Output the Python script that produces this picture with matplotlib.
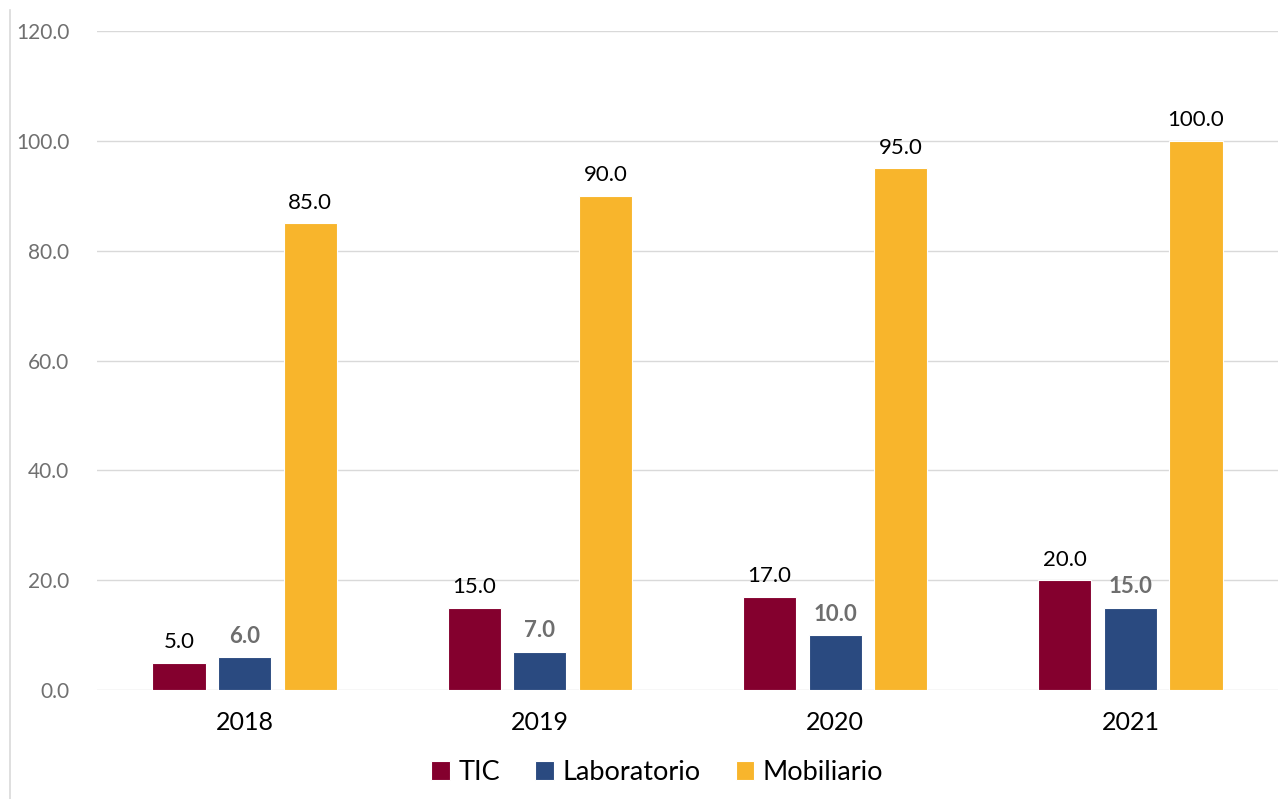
import numpy as np
import matplotlib.pyplot as plt
from matplotlib.lines import Line2D

plt.rcParams['font.family'] = ['Lato', 'DejaVu Sans']

years = ['2018', '2019', '2020', '2021']
tic = [5.0, 15.0, 17.0, 20.0]
laboratorio = [6.0, 7.0, 10.0, 15.0]
mobiliario = [85.0, 90.0, 95.0, 100.0]

series = [
    ('TIC', tic, '#84002E', '#000000', 'normal'),
    ('Laboratorio', laboratorio, '#2A4A80', '#6E6E6E', 'bold'),
    ('Mobiliario', mobiliario, '#F8B52C', '#000000', 'normal'),
]

fig = plt.figure(figsize=(12.81, 7.99), dpi=100)
ax = fig.add_axes([0.0757, 0.1364, 0.922, 0.8248])

x = np.arange(len(years))
width = 0.18
offsets = [-0.222, 0.0, 0.222]

for (name, vals, color, lcolor, weight), off in zip(series, offsets):
    bars = ax.bar(x + off, vals, width, color=color, label=name,
                  edgecolor='white', linewidth=0.8, zorder=3)
    for b, v in zip(bars, vals):
        ax.text(b.get_x() + b.get_width() / 2, v + 1.9, f'{v:.1f}',
                ha='center', va='bottom', fontsize=16, color=lcolor,
                fontweight=weight)

ax.set_xlim(-0.5, 3.5)
ax.set_ylim(0, 120)
ax.set_yticks(np.arange(0, 121, 20))
ax.set_yticklabels([f'{v:.1f}' for v in np.arange(0, 121, 20)])
ax.set_xticks(x)
ax.set_xticklabels(years)
ax.tick_params(axis='y', length=0, labelsize=15, labelcolor='#707070', pad=20)
ax.tick_params(axis='x', length=0, labelsize=18, labelcolor='#000000', pad=15)
ax.grid(axis='y', color='#D9D9D9', linewidth=1, zorder=0)
for s in ax.spines.values():
    s.set_visible(False)

fig.add_artist(Line2D([10 / 1281, 10 / 1281], [0, 1 - 10 / 799],
                      color='#D9D9D9', linewidth=1.2))

ax.legend(loc='center', bbox_to_anchor=(0.513, (799 - 772) / 799),
          bbox_transform=fig.transFigure, ncol=3, frameon=False,
          fontsize=19.5, handlelength=0.7, handleheight=0.7,
          handletextpad=0.3, columnspacing=1.3)

fig.savefig('out.png', dpi=100)
